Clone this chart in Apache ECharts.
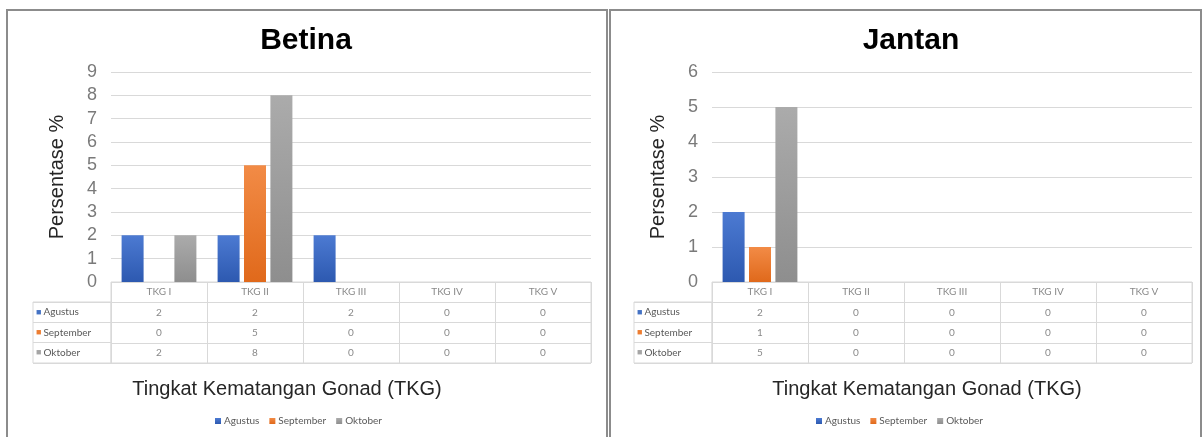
<!DOCTYPE html>
<html>
<head>
<meta charset="utf-8">
<script src="https://cdn.jsdelivr.net/npm/echarts@6/dist/echarts.min.js"></script>
<style>
  html, body { margin: 0; padding: 0; background: #ffffff; width: 1202px; height: 437px; overflow: hidden; }
  .chart { position: absolute; top: 0; height: 437px; }
  .frame { position: absolute; top: 9px; height: 440px; border: 2px solid #8c8c8c; box-sizing: border-box; pointer-events: none; }
</style>
</head>
<body>
<div id="c1" class="chart" style="left:0px;width:608px;"></div>
<div id="c2" class="chart" style="left:608px;width:594px;"></div>
<div class="frame" style="left:6px;width:602px;"></div>
<div class="frame" style="left:609px;width:593px;"></div>
<script>
// ---- data ----
const categories = ['TKG I', 'TKG II', 'TKG III', 'TKG IV', 'TKG V'];
const seriesNames = ['Agustus', 'September', 'Oktober'];
const betinaAgustus = [2, 2, 2, 0, 0];
const betinaSeptember = [0, 5, 0, 0, 0];
const betinaOktober = [2, 8, 0, 0, 0];
const jantanAgustus = [2, 0, 0, 0, 0];
const jantanSeptember = [1, 0, 0, 0, 0];
const jantanOktober = [5, 0, 0, 0, 0];
const betinaYMax = 9;
const jantanYMax = 6;
const titles = ['Betina', 'Jantan'];
const yAxisName = 'Persentase %';
const xAxisName = 'Tingkat Kematangan Gonad (TKG)';

// ---- styling ----
const colors = ['#4472C4', '#ED7D31', '#A5A5A5'];
const gradients = [
  ['#4c7ad2', '#2d59b0'],
  ['#f28b46', '#e0691b'],
  ['#ababab', '#8e8e8e']
];
const tableFont = 'Lato, "Open Sans", sans-serif';
const mainFont = '"Liberation Sans", Arial, sans-serif';
const lineCol = '#d9d9d9';

function grad(i) {
  return new echarts.graphic.LinearGradient(0, 0, 0, 1, [
    { offset: 0, color: gradients[i][0] },
    { offset: 1, color: gradients[i][1] }
  ]);
}

function buildOption(cfg) {
  const seriesData = cfg.values;
  const rowCats = ['hdr'].concat(seriesNames);
  const cellData = [];
  categories.forEach(function (c) { cellData.push([c, 'hdr', c]); });
  seriesNames.forEach(function (s, si) {
    categories.forEach(function (c, ci) { cellData.push([c, s, seriesData[si][ci]]); });
  });
  const rich = { t: { fontSize: 10, color: '#595959', fontFamily: tableFont, padding: [0, 0, 0, 2] } };
  colors.forEach(function (col, i) { rich['s' + i] = { fontSize: 9, color: col, fontFamily: mainFont }; });

  const series = seriesNames.map(function (s, si) {
    return {
      name: s, type: 'bar', xAxisIndex: 0, yAxisIndex: 0,
      data: seriesData[si],
      barWidth: 22, barGap: '20%',
      itemStyle: { color: grad(si) },
      silent: true
    };
  });
  series.push({
    type: 'scatter', xAxisIndex: 1, yAxisIndex: 1,
    symbolSize: 0, silent: true,
    data: cellData,
    label: {
      show: true, position: 'inside',
      formatter: function (p) { return String(p.value[2]); },
      fontSize: 10, color: '#6a6a6a', fontFamily: tableFont
    }
  });

  return {
    animation: false,
    color: colors,
    title: [
      {
        text: cfg.title, left: cfg.titleX, top: 26, textAlign: 'center', padding: 0,
        textStyle: { fontSize: 30, fontWeight: 'bold', color: '#000000', fontFamily: mainFont }
      },
      {
        text: xAxisName, left: cfg.xNameX, top: 379, textAlign: 'center', padding: 0,
        textStyle: { fontSize: 20, fontWeight: 'normal', color: '#262626', fontFamily: mainFont }
      }
    ],
    legend: {
      data: seriesNames, left: cfg.legendX - 100, width: 200, top: 411,
      icon: 'rect', itemWidth: 6, itemHeight: 6, itemGap: 10,
      textStyle: { fontSize: 10, color: '#595959', fontFamily: tableFont, padding: [0, 0, 0, -2] },
      selectedMode: false
    },
    grid: [
      { left: cfg.plotLeft, top: 72, width: 480, height: 210, containLabel: false },
      { left: cfg.plotLeft, top: 282, width: 480, height: 81, show: true, borderColor: lineCol, borderWidth: 1 },
      { left: cfg.plotLeft - 78, top: 302, width: 78, height: 61, show: true, borderColor: lineCol, borderWidth: 1 }
    ],
    xAxis: [
      { type: 'category', gridIndex: 0, data: categories, axisLabel: { show: false }, axisTick: { show: false }, axisLine: { show: false } },
      { type: 'category', gridIndex: 1, data: categories, axisLabel: { show: false }, axisTick: { show: false }, axisLine: { show: false },
        splitLine: { show: true, lineStyle: { color: lineCol, width: 1 } } },
      { type: 'category', gridIndex: 2, data: ['lbl'], axisLabel: { show: false }, axisTick: { show: false }, axisLine: { show: false } }
    ],
    yAxis: [
      {
        type: 'value', gridIndex: 0, min: 0, max: cfg.yMax, interval: 1,
        name: yAxisName, nameLocation: 'middle', nameRotate: 90, nameGap: 44,
        nameTextStyle: { fontSize: 20, color: '#262626', fontFamily: mainFont },
        axisLabel: { fontSize: 18, color: '#7a7a7a', fontFamily: mainFont, margin: 14 },
        axisLine: { show: false }, axisTick: { show: false },
        splitLine: { show: true, lineStyle: { color: lineCol, width: 1 } }
      },
      {
        type: 'category', gridIndex: 1, data: rowCats, inverse: true,
        axisLabel: { show: false }, axisTick: { show: false }, axisLine: { show: false },
        splitLine: { show: true, lineStyle: { color: lineCol, width: 1 } }
      },
      {
        type: 'category', gridIndex: 2, data: seriesNames, inverse: true,
        axisTick: { show: false }, axisLine: { show: false },
        splitLine: { show: true, lineStyle: { color: lineCol, width: 1 } },
        axisLabel: {
          inside: true, margin: 3,
          formatter: function (v, i) { return '{s' + i + '|■}{t|' + v + '}'; },
          rich: rich
        }
      }
    ],
    series: series
  };
}

const c1 = echarts.init(document.getElementById('c1'));
c1.setOption(buildOption({
  title: titles[0], titleX: 306, xNameX: 287, legendX: 310, plotLeft: 111,
  yMax: betinaYMax, values: [betinaAgustus, betinaSeptember, betinaOktober]
}));
const c2 = echarts.init(document.getElementById('c2'));
c2.setOption(buildOption({
  title: titles[1], titleX: 303, xNameX: 319, legendX: 303, plotLeft: 104,
  yMax: jantanYMax, values: [jantanAgustus, jantanSeptember, jantanOktober]
}));
</script>
</body>
</html>
